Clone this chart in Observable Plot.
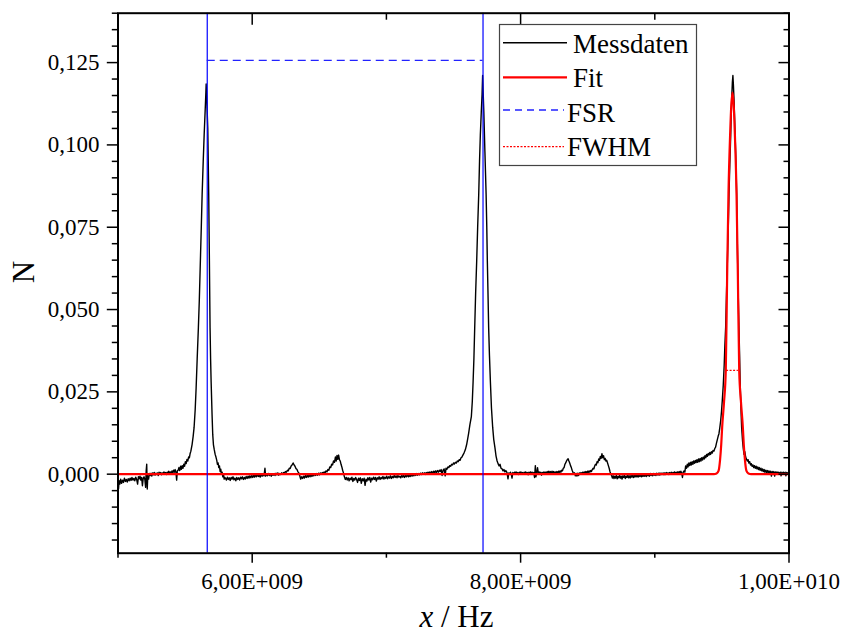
<!DOCTYPE html>
<html>
<head>
<meta charset="utf-8">
<script src="https://cdn.jsdelivr.net/npm/d3@7"></script>
<script src="https://cdn.jsdelivr.net/npm/@observablehq/plot@0.6"></script>
<style>
  html, body { margin: 0; padding: 0; background: #fff; }
  #wrap { position: relative; width: 845px; height: 644px; font-family: "Liberation Serif", serif; }
  #wrap svg, #wrap svg text, #wrap svg tspan { font-family: "Liberation Serif", "Times New Roman", serif !important; }
  #legend { position: absolute; left: 0; top: 0; pointer-events: none; }
</style>
</head>
<body>
<div id="wrap"></div>
<script>
// ---- Data (frequency in GHz, N) ----
const messdaten = [
[5.000,-0.0035],[5.004,-0.0044],[5.008,-0.0020],[5.014,-0.0030],[5.020,-0.0015],[5.027,-0.0028],[5.034,-0.0018],[5.041,-0.0025],
[5.048,-0.0012],[5.055,-0.0022],[5.062,-0.0016],[5.069,-0.0024],[5.076,-0.0014],[5.083,-0.0020],[5.090,-0.0012],[5.097,-0.0019],
[5.104,-0.0010],[5.111,-0.0018],[5.118,-0.0013],[5.125,-0.0020],[5.132,-0.0009],[5.139,-0.0016],[5.146,-0.0030],[5.152,-0.0008],
[5.158,-0.0014],[5.164,-0.0006],[5.170,-0.0018],[5.176,-0.0010],[5.182,-0.0035],[5.188,-0.0012],[5.194,-0.0008],[5.200,-0.0016],
[5.206,-0.0040],[5.210,0.0010],[5.214,0.0030],[5.218,-0.0045],[5.222,-0.0005],[5.228,-0.0015],[5.234,0.0002],[5.240,-0.0004],
[5.246,0.0003],[5.252,-0.0006],[5.258,0.0004],[5.264,-0.0002],[5.270,0.0005],[5.276,-0.0003],[5.282,0.0003],[5.288,-0.0001],
[5.294,0.0004],[5.300,-0.0004],[5.306,0.0006],[5.312,0.0000],[5.318,0.0005],[5.324,-0.0002],[5.330,0.0004],[5.336,0.0000],
[5.342,0.0007],[5.348,0.0001],[5.354,0.0005],[5.360,-0.0001],[5.366,0.0006],[5.372,0.0002],[5.378,0.0009],[5.384,0.0003],
[5.390,0.0007],[5.396,0.0001],[5.402,0.0010],[5.408,0.0004],[5.414,0.0012],[5.420,0.0006],[5.426,0.0014],[5.432,0.0005],
[5.437,-0.0018],[5.442,0.0010],[5.448,0.0012],[5.454,0.0020],[5.460,0.0011],[5.466,0.0024],[5.472,0.0015],[5.478,0.0026],
[5.484,0.0018],[5.490,0.0030],[5.496,0.0024],[5.502,0.0038],[5.508,0.0032],[5.514,0.0045],[5.520,0.0040],[5.526,0.0052],
[5.532,0.0050],[5.537,0.0062],[5.543,0.0070],[5.552,0.0090],[5.560,0.0115],[5.567,0.0142],[5.575,0.0195],[5.582,0.0260],
[5.590,0.0350],[5.599,0.0445],[5.606,0.0530],[5.612,0.0620],[5.620,0.0740],[5.627,0.0850],[5.635,0.0950],[5.642,0.1030],
[5.650,0.1110],[5.655,0.1160],[5.657,0.1185],[5.663,0.1120],[5.669,0.1050],[5.676,0.0850],[5.681,0.0650],[5.686,0.0445],
[5.690,0.0350],[5.694,0.0280],[5.701,0.0180],[5.706,0.0120],[5.711,0.0090],[5.717,0.0075],[5.724,0.0060],[5.730,0.0052],
[5.736,0.0042],[5.741,0.0030],[5.746,0.0034],[5.751,0.0020],[5.756,0.0025],[5.761,0.0008],[5.766,0.0015],[5.771,0.0000],
[5.776,0.0006],[5.781,-0.0008],[5.786,0.0000],[5.791,-0.0015],[5.796,-0.0010],
[5.801,-0.0012],[5.808,-0.0018],[5.815,-0.0009],[5.822,-0.0016],[5.829,-0.0011],[5.836,-0.0019],[5.843,-0.0010],[5.850,-0.0015],
[5.857,-0.0008],[5.864,-0.0017],[5.871,-0.0012],[5.878,-0.0020],[5.885,-0.0010],[5.892,-0.0016],[5.899,-0.0011],[5.906,-0.0018],
[5.913,-0.0009],[5.920,-0.0014],[5.927,-0.0008],[5.934,-0.0016],[5.941,-0.0010],[5.948,-0.0015],[5.955,-0.0007],[5.962,-0.0013],
[5.969,-0.0006],[5.976,-0.0012],[5.983,-0.0005],[5.990,-0.0011],[5.997,-0.0004],[6.004,-0.0010],[6.011,-0.0003],[6.018,-0.0009],
[6.025,-0.0002],[6.032,-0.0008],[6.039,-0.0001],[6.046,-0.0007],[6.053,-0.0003],[6.060,-0.0009],[6.067,-0.0001],[6.074,-0.0006],
[6.081,0.0000],[6.088,-0.0005],[6.095,0.0018],[6.100,-0.0006],[6.107,0.0001],[6.114,-0.0005],[6.121,0.0002],[6.128,-0.0004],
[6.135,0.0001],[6.142,-0.0006],[6.149,0.0000],[6.156,-0.0003],[6.163,0.0002],[6.170,-0.0004],[6.177,0.0003],[6.184,-0.0002],
[6.191,0.0004],[6.198,-0.0003],[6.205,0.0002],[6.212,-0.0001],[6.219,0.0004],[6.226,0.0000],[6.233,0.0005],[6.240,0.0002],
[6.247,0.0008],[6.255,0.0006],[6.262,0.0012],[6.269,0.0010],[6.276,0.0018],[6.283,0.0017],[6.290,0.0025],[6.297,0.0028],
[6.305,0.0034],[6.312,0.0028],[6.319,0.0024],[6.326,0.0017],[6.333,0.0015],[6.340,0.0008],[6.347,0.0004],[6.354,-0.0004],
[6.361,-0.0015],[6.368,-0.0008],[6.375,-0.0013],[6.382,-0.0006],[6.389,-0.0012],[6.396,-0.0004],[6.403,-0.0010],[6.410,-0.0003],
[6.417,-0.0009],[6.424,-0.0002],[6.431,-0.0008],[6.438,-0.0001],[6.445,-0.0007],[6.452,0.0000],[6.459,-0.0005],[6.466,0.0001],
[6.473,-0.0004],[6.480,0.0002],[6.487,-0.0003],[6.494,0.0003],[6.501,-0.0002],[6.508,0.0004],[6.515,0.0000],[6.522,0.0005],
[6.529,0.0002],[6.536,0.0007],[6.543,0.0004],[6.550,0.0010],[6.557,0.0007],[6.564,0.0014],[6.571,0.0012],[6.578,0.0022],
[6.585,0.0020],[6.592,0.0030],[6.599,0.0028],[6.606,0.0040],[6.613,0.0036],[6.620,0.0052],[6.626,0.0040],[6.632,0.0057],
[6.638,0.0045],[6.644,0.0058],[6.650,0.0044],[6.656,0.0040],[6.662,0.0030],[6.668,0.0022],[6.674,0.0012],[6.680,0.0004],
[6.687,-0.0008],[6.694,-0.0016],[6.701,-0.0010],[6.708,-0.0018],[6.715,-0.0011],[6.722,-0.0020],[6.729,-0.0012],[6.736,-0.0017],
[6.743,-0.0009],[6.750,-0.0022],[6.757,-0.0013],[6.764,-0.0018],[6.771,-0.0010],[6.778,-0.0016],[6.785,-0.0025],[6.792,-0.0012],
[6.799,-0.0019],[6.806,-0.0011],[6.813,-0.0028],[6.820,-0.0014],[6.827,-0.0020],[6.834,-0.0012],[6.841,-0.0034],[6.848,-0.0015],
[6.855,-0.0021],[6.862,-0.0011],[6.869,-0.0018],[6.876,-0.0010],[6.883,-0.0024],[6.890,-0.0012],[6.897,-0.0017],[6.904,-0.0009],
[6.911,-0.0016],[6.918,-0.0010],[6.925,-0.0021],[6.932,-0.0011],[6.939,-0.0015],[6.946,-0.0008],[6.953,-0.0016],[6.960,-0.0010],
[6.967,-0.0014],[6.974,-0.0007],[6.981,-0.0015],[6.988,-0.0009],[6.995,-0.0013],[7.002,-0.0006],[7.009,-0.0014],[7.016,-0.0008],
[7.023,-0.0012],[7.030,-0.0005],[7.037,-0.0013],[7.044,-0.0007],[7.051,-0.0011],[7.058,-0.0004],[7.065,-0.0010],[7.072,-0.0005],
[7.079,-0.0011],[7.086,-0.0004],[7.093,-0.0009],[7.100,-0.0006],[7.107,-0.0011],[7.114,-0.0004],[7.121,-0.0009],[7.128,-0.0003],
[7.135,-0.0010],[7.142,-0.0004],[7.149,-0.0008],[7.156,-0.0002],[7.163,-0.0008],[7.170,-0.0003],[7.177,-0.0007],[7.184,-0.0001],
[7.191,-0.0006],[7.198,0.0000],[7.205,-0.0005],[7.212,0.0001],[7.219,-0.0004],[7.226,0.0002],[7.233,-0.0003],[7.240,0.0002],
[7.247,-0.0002],[7.254,0.0003],[7.261,-0.0001],[7.268,0.0004],[7.275,0.0000],[7.282,0.0004],[7.289,-0.0001],[7.296,0.0005],
[7.303,0.0001],[7.310,0.0006],[7.317,0.0002],[7.324,0.0007],[7.331,0.0002],[7.338,0.0008],[7.345,0.0003],[7.352,0.0009],
[7.359,0.0004],[7.366,0.0010],[7.373,0.0005],[7.380,0.0011],[7.387,0.0006],[7.394,0.0012],[7.401,0.0008],[7.408,0.0014],
[7.415,-0.0004],[7.422,0.0012],[7.430,0.0016],[7.438,-0.0005],[7.444,0.0018],[7.451,0.0015],[7.458,0.0022],[7.465,0.0020],
[7.472,0.0026],[7.479,0.0024],[7.486,0.0030],[7.493,0.0028],[7.500,0.0034],[7.507,0.0031],[7.514,0.0036],[7.521,0.0034],
[7.528,0.0040],[7.535,0.0038],[7.542,0.0044],[7.549,0.0042],[7.556,0.0050],[7.563,0.0052],[7.570,0.0058],[7.578,0.0064],
[7.588,0.0074],[7.598,0.0090],[7.606,0.0108],[7.613,0.0125],[7.622,0.0150],[7.633,0.0175],[7.640,0.0220],[7.646,0.0280],
[7.652,0.0350],[7.658,0.0445],[7.665,0.0550],[7.673,0.0650],[7.680,0.0750],[7.688,0.0850],[7.694,0.0950],[7.700,0.1030],
[7.707,0.1100],[7.713,0.1154],[7.717,0.1211],[7.721,0.1160],[7.726,0.1100],[7.734,0.0980],[7.743,0.0850],[7.748,0.0750],
[7.752,0.0650],[7.757,0.0550],[7.762,0.0445],[7.768,0.0360],[7.775,0.0280],[7.783,0.0200],[7.792,0.0142],[7.800,0.0105],
[7.809,0.0080],[7.817,0.0055],[7.825,0.0040],[7.832,0.0032],[7.840,0.0025],[7.847,0.0030],[7.854,0.0018],[7.862,0.0016],
[7.869,0.0010],[7.876,0.0014],[7.883,0.0007],[7.890,0.0011],[7.899,0.0005],[7.906,-0.0014],[7.912,0.0004],[7.918,0.0000],
[7.924,0.0006],[7.930,0.0002],[7.936,-0.0012],[7.942,0.0005],[7.948,0.0001],[7.954,0.0006],[7.960,0.0002],[7.966,0.0007],
[7.972,0.0001],[7.978,0.0005],[7.984,-0.0001],[7.990,0.0006],[7.996,0.0002],[8.002,0.0007],[8.008,0.0001],[8.014,0.0005],
[8.020,0.0000],[8.026,0.0006],[8.032,0.0002],[8.038,0.0007],[8.044,0.0001],[8.050,0.0005],[8.056,-0.0002],[8.062,0.0006],
[8.068,0.0001],[8.074,0.0007],[8.080,0.0002],[8.086,0.0006],[8.092,0.0000],[8.098,0.0005],[8.104,-0.0010],[8.110,0.0026],
[8.114,-0.0008],[8.120,0.0004],[8.126,0.0020],[8.132,0.0003],[8.138,0.0007],[8.144,0.0001],[8.150,0.0006],[8.156,-0.0003],
[8.162,0.0005],[8.168,0.0001],[8.174,0.0007],[8.180,0.0002],[8.186,0.0006],[8.192,0.0003],[8.198,0.0008],[8.204,0.0004],
[8.210,0.0009],[8.216,0.0003],[8.222,0.0008],[8.228,0.0004],[8.234,0.0009],[8.240,0.0003],[8.246,0.0008],[8.252,0.0002],
[8.258,0.0007],[8.264,0.0003],[8.270,0.0008],[8.276,0.0004],[8.282,0.0009],[8.288,0.0005],[8.294,0.0010],[8.300,0.0006],
[8.306,0.0012],[8.312,0.0010],[8.318,0.0018],[8.324,0.0020],[8.330,0.0030],[8.336,0.0034],[8.342,0.0040],[8.348,0.0044],
[8.354,0.0047],[8.360,0.0040],[8.366,0.0034],[8.372,0.0026],[8.378,0.0020],[8.384,0.0012],[8.390,0.0006],[8.396,0.0000],
[8.402,0.0004],[8.408,-0.0005],[8.414,0.0002],[8.420,-0.0006],[8.426,0.0003],[8.432,-0.0004],[8.438,0.0004],[8.444,0.0000],
[8.450,0.0005],[8.456,0.0001],[8.462,0.0006],[8.468,0.0002],[8.474,0.0007],[8.480,0.0003],[8.486,0.0008],[8.492,0.0004],
[8.498,0.0009],[8.504,0.0005],[8.510,0.0010],[8.516,0.0006],[8.522,0.0011],[8.528,0.0008],[8.534,0.0014],[8.540,0.0018],
[8.546,0.0016],[8.552,0.0025],[8.558,0.0030],[8.564,0.0028],[8.570,0.0038],[8.576,0.0035],[8.582,0.0046],[8.588,0.0042],
[8.594,0.0054],[8.600,0.0048],[8.606,0.0062],[8.612,0.0050],[8.618,0.0056],[8.624,0.0044],[8.630,0.0048],[8.636,0.0040],
[8.642,0.0042],[8.648,0.0034],[8.654,0.0026],[8.660,0.0018],[8.666,0.0008],[8.672,0.0000],[8.678,-0.0004],[8.684,-0.0012],
[8.690,-0.0005],[8.696,-0.0013],[8.702,-0.0006],[8.708,-0.0012],[8.714,-0.0004],[8.720,-0.0014],[8.726,-0.0007],[8.732,-0.0011],
[8.738,-0.0003],[8.744,-0.0012],[8.750,-0.0006],[8.756,-0.0015],[8.762,-0.0005],[8.768,-0.0010],[8.774,-0.0003],[8.780,-0.0013],
[8.786,-0.0006],[8.792,-0.0010],[8.798,-0.0002],[8.804,-0.0011],[8.810,-0.0005],[8.816,-0.0012],[8.822,-0.0004],[8.828,-0.0009],
[8.834,-0.0002],[8.840,-0.0010],[8.846,-0.0004],[8.852,-0.0009],[8.858,-0.0001],[8.864,-0.0008],[8.870,-0.0003],[8.876,-0.0009],
[8.882,-0.0002],[8.888,-0.0007],[8.894,0.0000],[8.900,-0.0008],[8.906,-0.0002],[8.912,-0.0007],[8.918,0.0000],[8.924,-0.0006],
[8.930,-0.0001],[8.936,-0.0007],[8.942,0.0001],[8.948,-0.0005],[8.954,0.0000],[8.960,-0.0006],[8.966,0.0002],[8.972,-0.0004],
[8.978,0.0001],[8.984,-0.0005],[8.990,0.0002],[8.996,-0.0003],[9.002,0.0002],[9.008,-0.0004],[9.014,0.0003],[9.020,-0.0002],
[9.026,0.0003],[9.032,-0.0003],[9.038,0.0004],[9.044,-0.0002],[9.050,0.0003],[9.056,-0.0001],[9.062,0.0004],[9.068,-0.0002],
[9.074,0.0004],[9.080,-0.0001],[9.086,0.0005],[9.092,0.0000],[9.098,0.0004],[9.104,-0.0001],[9.110,0.0005],[9.116,0.0001],
[9.122,0.0006],[9.128,0.0000],[9.134,0.0005],[9.140,0.0002],[9.146,0.0007],[9.152,0.0001],[9.158,0.0006],[9.164,0.0002],
[9.170,0.0007],[9.176,0.0003],[9.182,0.0008],[9.188,0.0003],[9.194,0.0009],[9.200,0.0004],[9.206,-0.0010],[9.212,0.0006],
[9.218,0.0010],[9.224,0.0006],[9.230,0.0025],[9.236,0.0018],[9.242,0.0030],[9.248,0.0022],[9.254,0.0034],[9.260,0.0026],
[9.266,0.0036],[9.272,0.0028],[9.278,0.0038],[9.284,0.0030],[9.290,0.0040],[9.296,0.0033],[9.302,0.0042],[9.308,0.0035],
[9.314,0.0044],[9.320,0.0036],[9.326,0.0046],[9.332,0.0038],[9.338,0.0048],[9.344,0.0040],[9.350,0.0050],[9.356,0.0043],
[9.362,0.0052],[9.368,0.0046],[9.374,0.0056],[9.380,0.0050],[9.386,0.0060],[9.392,0.0054],[9.398,0.0063],[9.404,0.0058],
[9.410,0.0066],[9.416,0.0060],[9.422,0.0068],[9.428,0.0064],[9.434,0.0072],[9.441,0.0070],[9.447,0.0078],[9.453,0.0082],
[9.460,0.0095],[9.466,0.0105],[9.472,0.0115],[9.478,0.0123],[9.484,0.0140],[9.491,0.0163],[9.497,0.0190],[9.503,0.0224],
[9.510,0.0270],[9.517,0.0330],[9.522,0.0390],[9.528,0.0446],[9.535,0.0560],[9.543,0.0680],[9.548,0.0760],[9.553,0.0852],
[9.559,0.0940],[9.565,0.1020],[9.570,0.1100],[9.574,0.1150],[9.578,0.1190],[9.582,0.1211],[9.586,0.1180],[9.591,0.1130],
[9.597,0.1050],[9.603,0.0970],[9.610,0.0852],[9.615,0.0700],[9.621,0.0560],[9.627,0.0446],[9.632,0.0360],[9.636,0.0280],
[9.641,0.0210],[9.647,0.0143],[9.654,0.0100],[9.660,0.0075],[9.665,0.0060],[9.671,0.0068],[9.677,0.0052],[9.683,0.0046],
[9.689,0.0040],[9.695,0.0044],[9.701,0.0034],[9.707,0.0038],[9.713,0.0028],[9.719,0.0032],[9.725,0.0024],[9.731,0.0028],
[9.737,0.0020],[9.743,0.0026],[9.749,0.0018],[9.755,0.0024],[9.761,0.0016],[9.767,0.0022],[9.773,0.0014],[9.779,0.0020],
[9.785,0.0012],[9.791,0.0018],[9.797,0.0010],[9.803,0.0016],[9.809,0.0008],[9.815,0.0014],[9.821,0.0006],[9.827,0.0012],
[9.833,0.0005],[9.839,0.0011],[9.845,0.0004],[9.851,0.0010],[9.857,0.0003],[9.863,0.0009],[9.869,-0.0006],[9.875,0.0008],
[9.881,0.0002],[9.887,0.0008],[9.893,-0.0006],[9.899,0.0007],[9.905,0.0001],[9.911,0.0007],[9.917,0.0000],[9.923,0.0006],
[9.929,0.0001],[9.935,0.0006],[9.941,-0.0005],[9.947,0.0006],[9.953,0.0000],[9.959,0.0006],[9.965,0.0001],[9.971,0.0006],
[9.977,-0.0005],[9.983,0.0005],[9.989,0.0001],[9.995,0.0006],[10.000,0.0003]
];

const fitData = [
[5.000,0],[9.440,0],[9.460,0.0002],[9.475,0.0010],[9.486,0.0042],[9.495,0.0090],[9.502,0.0143],[9.516,0.0220],
[9.529,0.0315],[9.539,0.0600],[9.549,0.0852],[9.562,0.1040],[9.570,0.1120],[9.579,0.1159],[9.588,0.1120],[9.596,0.1040],
[9.609,0.0852],[9.619,0.0600],[9.629,0.0315],[9.642,0.0220],[9.656,0.0143],[9.663,0.0090],[9.672,0.0042],[9.683,0.0010],
[9.698,0.0002],[9.718,0],[10.000,0]
];

const fsrLinesGHz = [5.665, 7.720];   // vertical markers at the two peaks
const fsrLevel = 0.1257;               // FSR dashed line height
const fwhmLevel = 0.0315;              // FWHM dotted line height
const fwhmRangeGHz = [9.535, 9.623];

const xMajorTicks = [6e9, 8e9, 1e10];
const xMinorTicks = [5e9, 7e9, 9e9];
const yMajorTicks = [0, 0.025, 0.05, 0.075, 0.1, 0.125];
const yMinorTicks = [-0.02, -0.015, -0.01, -0.005, 0.005, 0.01, 0.015, 0.02, 0.03, 0.035, 0.04, 0.045,
  0.055, 0.06, 0.065, 0.07, 0.08, 0.085, 0.09, 0.095, 0.105, 0.11, 0.115, 0.12, 0.13, 0.135, 0.14];

const legendItems = ["Messdaten", "Fit", "FSR", "FWHM"];
const xTitle = ["x", "/ Hz"];
const yTitle = "N";

// ---- formatting ----
const fmtY = d => d.toFixed(3).replace(".", ",");
const fmtX = d => {
  const e = Math.floor(Math.log10(d) + 1e-9);
  const m = d / Math.pow(10, e);
  return m.toFixed(2).replace(".", ",") + "E+" + String(e).padStart(3, "0");
};
const blank = () => "";

const FONT = "Liberation Serif";

const chart = Plot.plot({
  width: 845,
  height: 644,
  marginLeft: 117.5,
  marginRight: 56.5,
  marginTop: 12.7,
  marginBottom: 91.3,
  style: { fontFamily: FONT, fontSize: "23px", color: "#000", background: "#fff" },
  x: { type: "linear", domain: [5e9, 1e10], label: null },
  y: { type: "linear", domain: [-0.024, 0.14], label: null },
  marks: [
    Plot.line(messdaten, { x: d => d[0] * 1e9, y: d => d[1], stroke: "#000", strokeWidth: 1.4 }),
    Plot.line(fitData, { x: d => d[0] * 1e9, y: d => d[1], stroke: "#ff0000", strokeWidth: 2.2, curve: "monotone-x" }),
    Plot.ruleX(fsrLinesGHz, { x: d => d * 1e9, stroke: "#0000ff", strokeWidth: 1.2 }),
    Plot.ruleY([fsrLevel], { y: d => d, x1: fsrLinesGHz[0] * 1e9, x2: fsrLinesGHz[1] * 1e9, stroke: "#2222ff", strokeWidth: 1.3, strokeDasharray: "8,5" }),
    Plot.ruleY([fwhmLevel], { y: d => d, x1: fwhmRangeGHz[0] * 1e9, x2: fwhmRangeGHz[1] * 1e9, stroke: "#ff0000", strokeWidth: 1.3, strokeDasharray: "2,1.5" }),
    // axes: left/bottom outward with labels
    Plot.axisY({ ticks: yMajorTicks, anchor: "left", tickSize: 10.7, tickPadding: 7.8, tickFormat: fmtY, fontSize: 23, fontFamily: FONT, strokeWidth: 1.5, label: null }),
    Plot.axisY({ ticks: yMinorTicks, anchor: "left", tickSize: 5.7, tickFormat: blank, strokeWidth: 1.5, label: null }),
    Plot.axisX({ ticks: xMajorTicks, anchor: "bottom", tickSize: 10, tickPadding: 9.3, tickFormat: fmtX, fontSize: 23, fontFamily: FONT, strokeWidth: 1.5, label: null }),
    Plot.axisX({ ticks: xMinorTicks, anchor: "bottom", tickSize: 5, tickFormat: blank, strokeWidth: 1.5, label: null }),
    // right/top inward ticks
    Plot.axisY({ ticks: yMajorTicks, anchor: "right", tickSize: 11, dx: -11, tickFormat: blank, strokeWidth: 1.5, label: null }),
    Plot.axisY({ ticks: yMinorTicks, anchor: "right", tickSize: 6, dx: -6, tickFormat: blank, strokeWidth: 1.5, label: null }),
    Plot.axisX({ ticks: xMajorTicks, anchor: "top", tickSize: 11, dy: 11, tickFormat: blank, strokeWidth: 1.5, label: null }),
    Plot.axisX({ ticks: xMinorTicks, anchor: "top", tickSize: 6, dy: 6, tickFormat: blank, strokeWidth: 1.5, label: null }),
    Plot.frame({ stroke: "#000", strokeWidth: 2 }),
    // axis titles
    Plot.text([yTitle], { text: d => d, frameAnchor: "left", dx: -94, rotate: -90, fontSize: 31, fontFamily: FONT }),
    Plot.text([xTitle[0]], { text: d => d, frameAnchor: "bottom", dx: -34, dy: 74, textAnchor: "start", fontSize: 31, fontFamily: FONT, fontStyle: "italic" }),
    Plot.text([xTitle[1]], { text: d => d, frameAnchor: "bottom", dx: -12.5, dy: 74, textAnchor: "start", fontSize: 31, fontFamily: FONT })
  ]
});

const wrap = document.getElementById("wrap");
wrap.appendChild(chart);

// ---- legend (overlay, inside the plot frame, top right) ----
const lg = d3.select(wrap).append("svg")
  .attr("id", "legend")
  .attr("width", 845).attr("height", 644)
  .attr("font-family", FONT);
lg.append("rect").attr("x", 499.5).attr("y", 24.5).attr("width", 197).attr("height", 141)
  .attr("fill", "#fff").attr("stroke", "#444").attr("stroke-width", 1.2);
const legendStyles = [
  { stroke: "#000", width: 1.4, dash: null, y: 42.7, x2: 567, tx: 573, ty: 53.3 },
  { stroke: "#ff0000", width: 2.2, dash: null, y: 77.3, x2: 567, tx: 573, ty: 87 },
  { stroke: "#2222ff", width: 1.3, dash: "7,5", y: 110, x2: 564, tx: 567, ty: 121.7 },
  { stroke: "#ff0000", width: 1.3, dash: "2,1.5", y: 146.7, x2: 564, tx: 567, ty: 156 }
];
legendItems.forEach((name, i) => {
  const s = legendStyles[i];
  lg.append("line").attr("x1", 503).attr("x2", s.x2).attr("y1", s.y).attr("y2", s.y)
    .attr("stroke", s.stroke).attr("stroke-width", s.width)
    .attr("stroke-dasharray", s.dash);
  lg.append("text").attr("x", s.tx).attr("y", s.ty).attr("font-size", 27)
    .attr("font-family", FONT).attr("fill", "#000").text(name);
});
</script>
</body>
</html>
